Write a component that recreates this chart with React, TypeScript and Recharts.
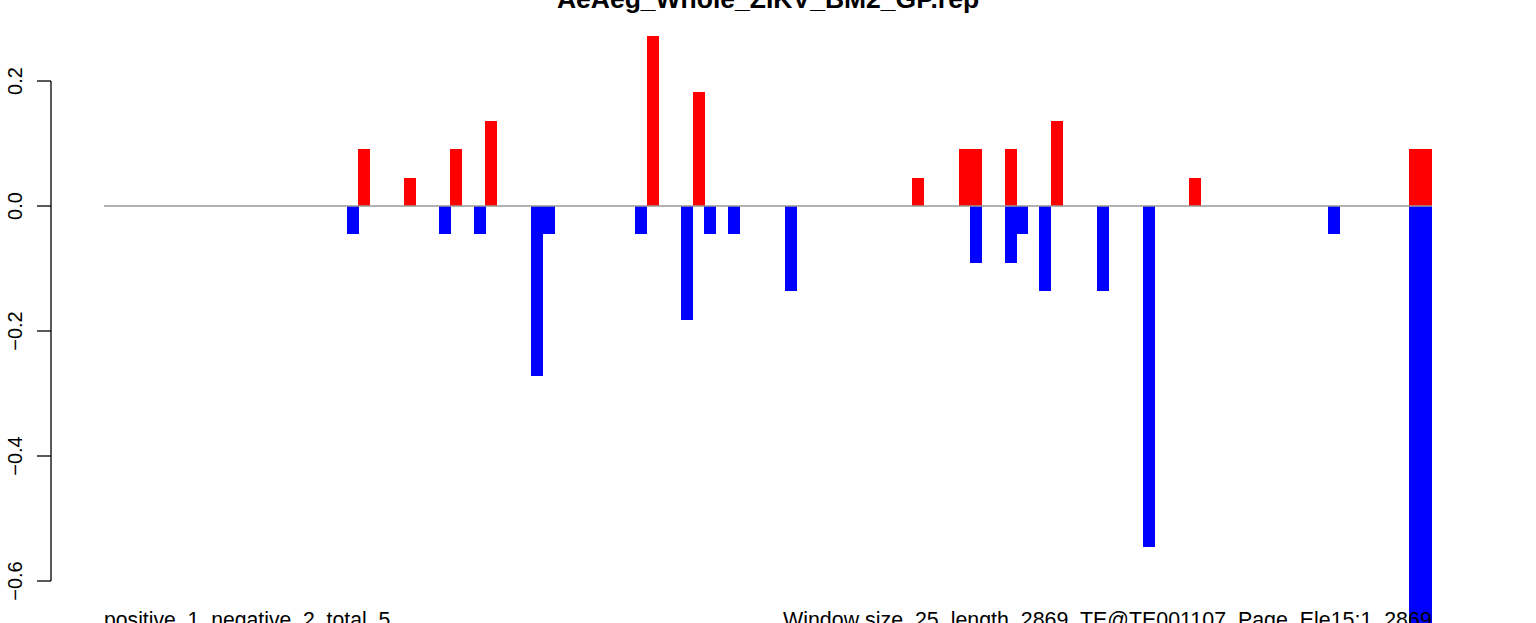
import React from 'react';
import { BarChart, Bar, XAxis, YAxis, ReferenceLine } from 'recharts';

const windowCount = 115;
const positiveWindows = [22, 26, 30, 33, 47, 51, 70, 74, 75, 78, 82, 94, 113, 114];
const positiveValues = [0.0909, 0.0455, 0.0909, 0.1364, 0.2727, 0.1818, 0.0455, 0.0909, 0.0909, 0.0909, 0.1364, 0.0455, 0.0909, 0.0909];
const negativeWindows = [21, 29, 32, 37, 38, 46, 50, 52, 54, 59, 75, 78, 79, 81, 86, 90, 106, 113, 114];
const negativeValues = [-0.0455, -0.0455, -0.0455, -0.2727, -0.0455, -0.0455, -0.1818, -0.0455, -0.0455, -0.1364, -0.0909, -0.0909, -0.0455, -0.1364, -0.1364, -0.5455, -0.0455, -0.6818, -0.6818];
const yTicks = [0.2, 0, -0.2, -0.4, -0.6];
const titleText = 'AeAeg_Whole_ZIKV_BM2_GP.rep';
const summaryText = 'positive  1  negative  2  total  5';
const infoText = 'Window size  25  length  2869  TE@TE001107  Page  Ele15:1  2869';

type Row = { pos: number; positive: number; negative: number };
const data: Row[] = Array.from({ length: windowCount }, (_, i) => ({ pos: i + 0.5, positive: 0, negative: 0 }));
positiveWindows.forEach((w, k) => { data[w].positive = positiveValues[k]; });
negativeWindows.forEach((w, k) => { data[w].negative = negativeValues[k]; });

const FONT = '"Liberation Sans", Arial, Helvetica, sans-serif';

const YTick = (props: any) => {
  const { x, y, payload } = props;
  const v = payload.value as number;
  const label = v < 0 ? '\u2212' + Math.abs(v).toFixed(1) : v.toFixed(1);
  const lx = x - 13;
  return (
    <text x={lx} y={y} transform={`rotate(-90 ${lx} ${y})`} textAnchor="middle" fontSize={20} fontFamily={FONT} fill="#000">
      {label}
    </text>
  );
};

export default function App() {
  return (
    <div style={{ position: 'absolute', left: 0, top: 0, width: 1536, height: 623, overflow: 'hidden', background: '#fff' }}>
      <BarChart
        width={1536}
        height={706}
        data={data}
        margin={{ top: 6, right: 51, bottom: 0, left: 0 }}
        stackOffset="sign"
        barCategoryGap={0}
        barGap={0}
      >
        <XAxis type="number" dataKey="pos" domain={[-4.6, 119.6]} hide allowDataOverflow />
        <YAxis
          type="number"
          domain={[-0.8, 0.32]}
          ticks={yTicks}
          interval={0}
          width={51}
          axisLine={false}
          tickSize={14}
          tickLine={{ stroke: '#000', strokeWidth: 1.3 }}
          tick={<YTick />}
          allowDataOverflow
        />
        <ReferenceLine
          segment={[{ x: 0, y: 0 }, { x: windowCount, y: 0 }]}
          stroke="#999999"
          strokeWidth={1.5}
          ifOverflow="visible"
        />
        <Bar dataKey="positive" stackId="s" fill="#FF0000" shapeRendering="crispEdges" isAnimationActive={false} />
        <Bar dataKey="negative" stackId="s" fill="#0000FF" shapeRendering="crispEdges" isAnimationActive={false} />
        <ReferenceLine
          segment={[{ x: -4.6, y: 0.2 }, { x: -4.6, y: -0.6 }]}
          stroke="#000"
          strokeWidth={1.3}
          ifOverflow="visible"
        />
      </BarChart>
      <svg width={1536} height={623} style={{ position: 'absolute', left: 0, top: 0, pointerEvents: 'none' }}>
        <text x={768} y={8} textAnchor="middle" fontWeight="bold" fontSize={26.5} fontFamily={FONT} fill="#000">
          {titleText}
        </text>
        <text x={104} y={627} fontSize={21.2} fontFamily={FONT} fill="#000" style={{ whiteSpace: 'pre' }}>
          {summaryText}
        </text>
        <text x={783} y={627} fontSize={21.4} fontFamily={FONT} fill="#000" style={{ whiteSpace: 'pre' }}>
          {infoText}
        </text>
      </svg>
    </div>
  );
}
